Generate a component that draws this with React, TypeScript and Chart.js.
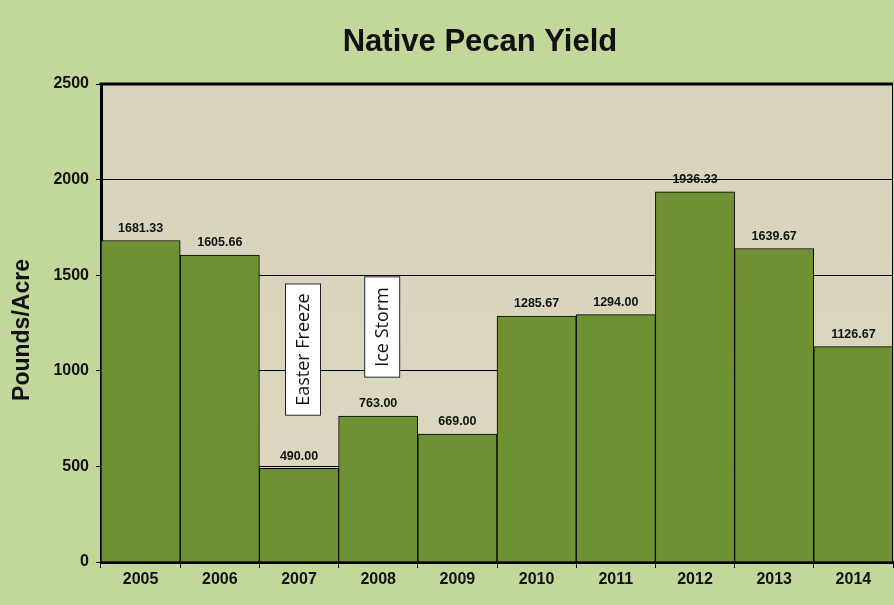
import React, { useEffect, useRef } from 'react';
import { Chart, registerables } from 'chart.js';

Chart.register(...registerables);

const years = ['2005', '2006', '2007', '2008', '2009', '2010', '2011', '2012', '2013', '2014'];
const yields = [1681.33, 1605.66, 490.0, 763.0, 669.0, 1285.67, 1294.0, 1936.33, 1639.67, 1126.67];
const yMin = 0;
const yMax = 2500;
const yStep = 500;

// text boxes over the bars
const eventLabels = ['Easter Freeze', 'Ice Storm'];
const eventYears = ['2007', '2008'];
const eventTop = [1457, 1494];
const eventBottom = [765, 964];

const bg = '#c1d89a';
const barColor = '#6f9033';

const decorations = {
  id: 'decorations',
  beforeDraw(chart: any) {
    const { ctx, chartArea: a, width, height } = chart;
    ctx.save();
    ctx.fillStyle = bg;
    ctx.fillRect(0, 0, width, height);
    const g = ctx.createLinearGradient(0, a.top, 0, a.bottom);
    g.addColorStop(0, '#d8d3bb');
    g.addColorStop(1, '#dcd8c1');
    ctx.fillStyle = g;
    ctx.fillRect(a.left, a.top, a.right - a.left, a.bottom - a.top);
    ctx.restore();
  },
  afterDatasetsDraw(chart: any) {
    const { ctx, chartArea: a } = chart;
    const xs = chart.scales.x;
    const ys = chart.scales.y;
    const meta = chart.getDatasetMeta(0);
    ctx.save();
    // value labels
    ctx.fillStyle = '#111';
    ctx.font = 'bold 12.5px "Liberation Sans", Arial, sans-serif';
    ctx.textAlign = 'center';
    ctx.textBaseline = 'bottom';
    meta.data.forEach((bar: any, i: number) => {
      ctx.fillText(yields[i].toFixed(2), bar.x, bar.y - 6);
    });
    // event boxes
    const bw = 36;
    eventLabels.forEach((label, i) => {
      const cx = xs.getPixelForValue(years.indexOf(eventYears[i])) + 4;
      const top = ys.getPixelForValue(eventTop[i]);
      const bottom = ys.getPixelForValue(eventBottom[i]);
      ctx.fillStyle = '#ffffff';
      ctx.fillRect(cx - bw / 2, top, bw, bottom - top);
      ctx.strokeStyle = '#222';
      ctx.lineWidth = 1;
      ctx.strokeRect(cx - bw / 2 + 0.5, top + 0.5, bw - 1, bottom - top - 1);
      ctx.save();
      ctx.translate(cx, (top + bottom) / 2);
      ctx.rotate(-Math.PI / 2);
      ctx.fillStyle = '#111';
      ctx.font = '18px "Open Sans", "Noto Sans", sans-serif';
      ctx.textAlign = 'center';
      ctx.textBaseline = 'middle';
      ctx.fillText(label, 0, 1);
      ctx.restore();
    });
    // frame
    ctx.strokeStyle = '#000';
    ctx.lineWidth = 3;
    ctx.beginPath();
    ctx.moveTo(a.left - 1.5, a.top);
    ctx.lineTo(a.right, a.top);
    ctx.stroke();
    ctx.lineWidth = 1;
    ctx.beginPath();
    ctx.moveTo(a.right - 0.5, a.top);
    ctx.lineTo(a.right - 0.5, a.bottom);
    ctx.stroke();
    // titles
    ctx.fillStyle = '#111';
    ctx.font = 'bold 31px "Liberation Sans", Arial, sans-serif';
    ctx.textAlign = 'center';
    ctx.textBaseline = 'middle';
    ctx.fillText('Native Pecan Yield', 480, 42);
    ctx.save();
    ctx.translate(23, (a.top + a.bottom) / 2 + 7);
    ctx.rotate(-Math.PI / 2);
    ctx.font = 'bold 23px "Liberation Sans", Arial, sans-serif';
    ctx.fillText('Pounds/Acre', 0, 0);
    ctx.restore();
    ctx.restore();
  },
};

const App: React.FC = () => {
  const chartRef = useRef<HTMLCanvasElement | null>(null);
  const chartInstanceRef = useRef<Chart | null>(null);

  useEffect(() => {
    document.body.style.margin = '0';
    if (!chartRef.current) return;
    if (chartInstanceRef.current) {
      chartInstanceRef.current.destroy();
      chartInstanceRef.current = null;
    }
    const tickFont = { family: '"Liberation Sans", Arial, sans-serif', size: 16, weight: 'bold' as const };
    chartInstanceRef.current = new Chart(chartRef.current, {
      type: 'bar',
      data: {
        labels: years,
        datasets: [
          {
            data: yields,
            backgroundColor: barColor,
            borderColor: '#000',
            borderWidth: 1,
            categoryPercentage: 1,
            barPercentage: 1,
          },
        ],
      },
      options: {
        responsive: false,
        animation: false,
        layout: { padding: { top: 84, right: 1, left: 0, bottom: 0 } },
        plugins: {
          legend: { display: false },
          tooltip: { enabled: false },
          title: { display: false },
        },
        scales: {
          x: {
            grid: { display: true, drawOnChartArea: false, offset: true, tickLength: 6, color: '#000', lineWidth: 1 },
            border: { color: '#000', width: 3 },
            ticks: { color: '#111', font: tickFont, padding: 2 },
            afterFit(scale: any) {
              scale.height = 43;
            },
          },
          y: {
            min: yMin,
            max: yMax,
            grid: { color: '#000', lineWidth: 1, tickLength: 5 },
            border: { color: '#000', width: 3 },
            ticks: {
              stepSize: yStep,
              color: '#111',
              font: tickFont,
              padding: 7,
              callback: (v: any) => String(v),
            },
            afterFit(scale: any) {
              scale.width = 101;
            },
          },
        },
      },
      plugins: [decorations],
    });

    return () => {
      if (chartInstanceRef.current !== null) {
        chartInstanceRef.current.destroy();
        chartInstanceRef.current = null;
      }
    };
  }, []);

  return (
    <div style={{ width: 894, height: 605 }}>
      <canvas ref={chartRef} width="894" height="605" style={{ display: 'block' }}></canvas>
    </div>
  );
};

export default App;
